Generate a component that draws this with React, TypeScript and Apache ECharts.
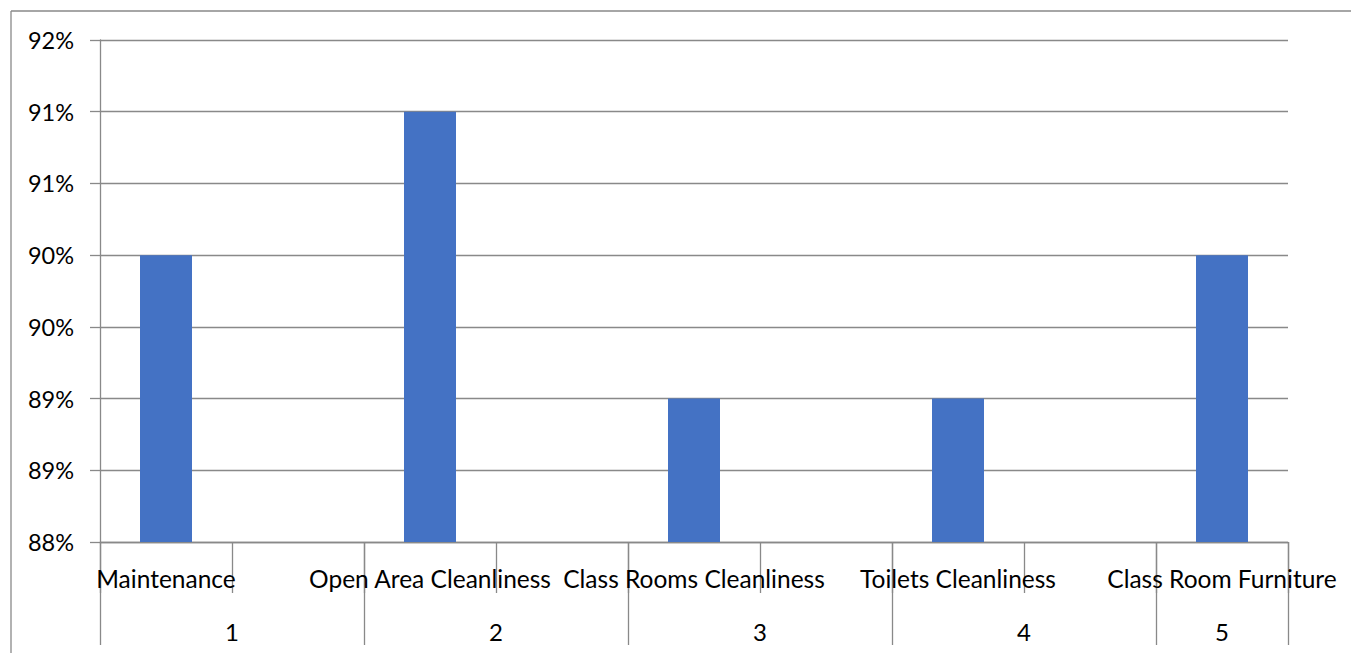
import React, { useEffect, useRef } from "react";
import * as echarts from "echarts";

const categories = [
  "Maintenance",
  "Open Area Cleanliness",
  "Class Rooms Cleanliness",
  "Toilets Cleanliness",
  "Class Room Furniture",
];
const values = [90, 91, 89, 89, 90];
const groups = ["1", "2", "3", "4", "5"];
const yTickLabels = ["88%", "89%", "89%", "90%", "90%", "91%", "91%", "92%"];

export default function App() {
  const ref = useRef<HTMLDivElement>(null);
  useEffect(() => {
    if (!ref.current) return;
    const chart = echarts.init(ref.current, null, { renderer: "svg" });

    // 9 slots: each category followed by an empty slot (last one has none)
    const slotCats: string[] = [];
    const slotVals: (number | string)[] = [];
    categories.forEach((c, i) => {
      slotCats.push(c);
      slotVals.push(values[i]);
      if (i < categories.length - 1) {
        slotCats.push(" ".repeat(i + 1));
        slotVals.push("-");
      }
    });
    const groupPositions = [1, 3, 5, 7, 8.5];
    const groupBounds = [0, 2, 4, 6, 8, 9];

    const font = "Lato";
    const gray = "#898989";

    chart.setOption({
      animation: false,
      backgroundColor: "#ffffff",
      textStyle: { fontFamily: font },
      grid: { left: 100, right: 63, top: 40, bottom: 111, containLabel: false },
      xAxis: [
        {
          type: "category",
          data: slotCats,
          boundaryGap: true,
          axisLine: { show: true, lineStyle: { color: gray, width: 1.3 } },
          axisTick: { show: true, interval: 0, length: 51, lineStyle: { color: gray, width: 1.3 } },
          axisLabel: {
            interval: 0,
            margin: 24,
            color: "#000",
            fontSize: 24.5,
            fontFamily: font,
            hideOverlap: false,
          },
          splitLine: { show: false },
        },
        {
          type: "value",
          position: "bottom",
          min: 0,
          max: 9,
          axisLine: { show: false },
          axisTick: {
            show: true,
            customValues: groupBounds,
            length: 103,
            lineStyle: { color: gray, width: 1.3 },
          },
          axisLabel: {
            show: true,
            customValues: groupPositions,
            margin: 77,
            color: "#000",
            fontSize: 24,
            fontFamily: font,
            formatter: (v: number) => {
              const idx = groupPositions.indexOf(v);
              return idx >= 0 ? groups[idx] : "";
            },
          },
          splitLine: { show: false },
        },
      ],
      yAxis: {
        type: "value",
        min: 88,
        max: 91.5,
        interval: 0.5,
        axisLine: { show: true, lineStyle: { color: gray, width: 1.3 } },
        axisTick: { show: true, length: 10, lineStyle: { color: gray, width: 1.3 } },
        axisLabel: {
          margin: 26,
          color: "#000",
          fontSize: 23.5,
          fontFamily: font,
          formatter: (v: number) => {
            const idx = Math.round((v - 88) / 0.5);
            return yTickLabels[idx] ?? "";
          },
        },
        splitLine: { show: true, lineStyle: { color: gray, width: 1.3 } },
      },
      series: [
        {
          type: "bar",
          xAxisIndex: 0,
          data: slotVals,
          barWidth: 52,
          itemStyle: { color: "#4472C4" },
        },
      ],
      graphic: [
        {
          type: "line",
          shape: { x1: 11, y1: 11, x2: 1351, y2: 11 },
          style: { stroke: gray, lineWidth: 1.3 },
        },
        {
          type: "line",
          shape: { x1: 11, y1: 11, x2: 11, y2: 653 },
          style: { stroke: gray, lineWidth: 1.3 },
        },
      ],
    });
    return () => chart.dispose();
  }, []);

  return (
    <div
      ref={ref}
      style={{ position: "fixed", left: 0, top: 0, width: 1351, height: 653 }}
    />
  );
}
